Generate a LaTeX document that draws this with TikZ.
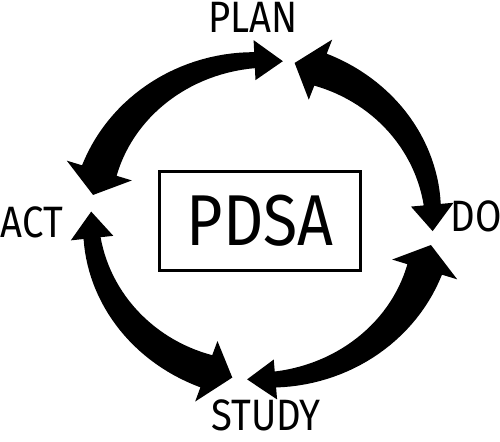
\documentclass[tikz,border=0pt]{standalone}
\usepackage{fontspec}
\setmainfont{Fira Sans}[FakeStretch=0.87]

\begin{document}
\begin{tikzpicture}[x=0.02cm, y=0.02cm,
  stage/.style={anchor=base, inner sep=0pt, font=\fontsize{25}{25}\selectfont},
  core/.style={draw, line width=1.7pt, minimum width=4.02cm, minimum height=1.98cm, inner sep=0pt, font=\fontsize{41}{41}\selectfont}]

\useasboundingbox (0,0) rectangle (500,442);

\node[core] (pdsa) at (260,221) {PDSA};

\node[stage] (plan) at (253,409) {PLAN};
\node[stage] (do) at (476,210) {DO};
\node[stage] (act) at (32,204) {ACT};
\node[stage] (study) at (266,11) {STUDY};

\begin{scope}[shift={(262,222)}, xscale=1.069]
\foreach \a/\b in {83/171, 177/260, 265/351, 356/439}{
  \pgfmathsetmacro\s{\a+9.5}
  \pgfmathsetmacro\e{\b-9}
  \fill (\a:160) -- (\s:180) -- (\s:168)
    -- plot[domain=\s:\e, samples=30] (\x:{168+9*(\x-\s)/(\e-\s)})
    -- (\e:192) -- (\b:160) -- (\e:128) -- (\e:143)
    -- plot[domain=\e:\s, samples=30] (\x:{152-9*(\x-\s)/(\e-\s)})
    -- (\s:140) -- cycle;
}
\end{scope}

\end{tikzpicture}
\end{document}
